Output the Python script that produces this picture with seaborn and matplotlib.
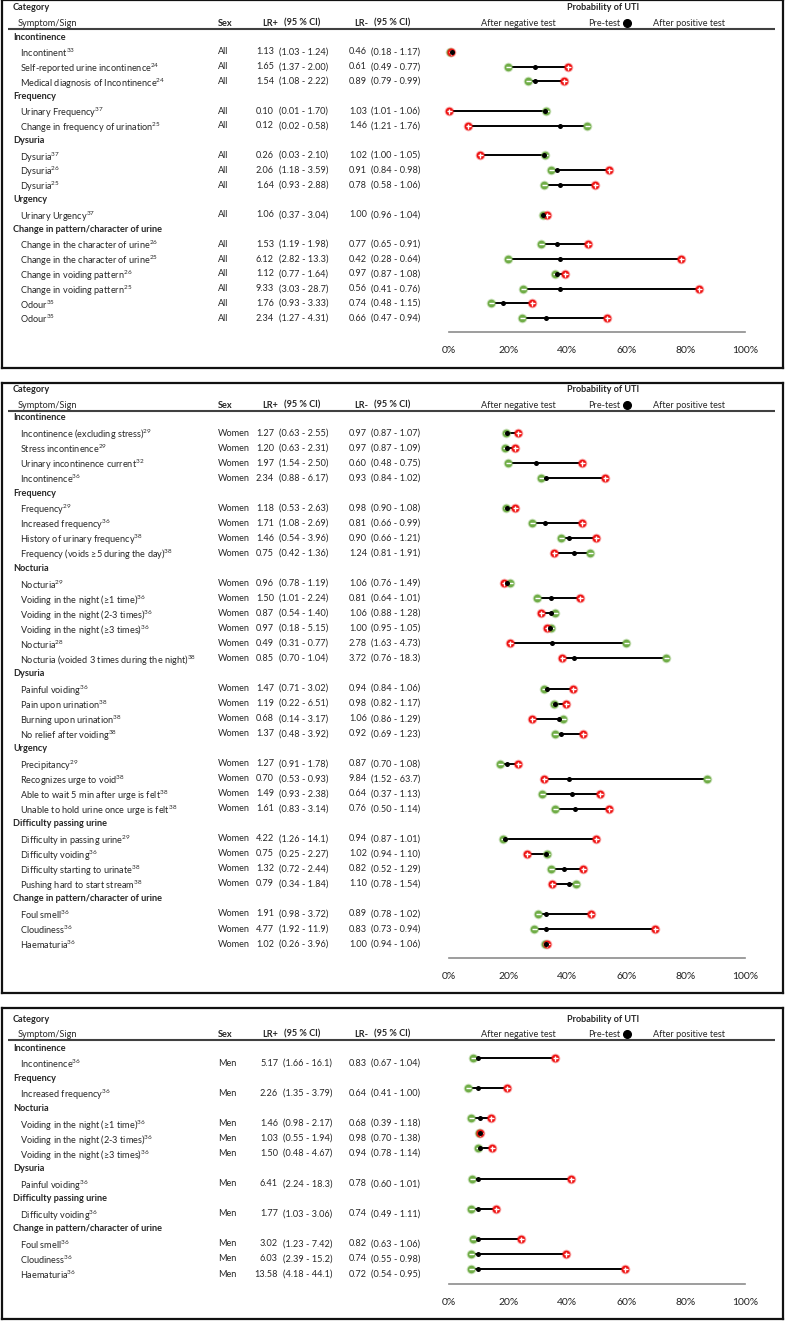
import matplotlib
matplotlib.use("Agg")
import matplotlib.pyplot as plt
import seaborn as sns

# ---------------- data ----------------
# panel 1: all patients (rows with empty sex are category headings)
labels1 = ["Incontinence", "Incontinent$^{33}$", "Self-reported urine incontinence$^{24}$",
           "Medical diagnosis of Incontinence$^{24}$", "Frequency", "Urinary Frequency$^{37}$",
           "Change in frequency of urination$^{25}$", "Dysuria", "Dysuria$^{37}$", "Dysuria$^{26}$",
           "Dysuria$^{25}$", "Urgency", "Urinary Urgency$^{37}$", "Change in pattern/character of urine",
           "Change in the character of urine$^{26}$", "Change in the character of urine$^{25}$",
           "Change in voiding pattern$^{26}$", "Change in voiding pattern$^{25}$",
           "Odour$^{35}$", "Odour$^{35}$"]
sex1 = ["", "All", "All", "All", "", "All", "All", "", "All", "All", "All", "", "All", "",
        "All", "All", "All", "All", "All", "All"]
lrp1 = ["", "1.13", "1.65", "1.54", "", "0.10", "0.12", "", "0.26", "2.06", "1.64", "", "1.06", "",
        "1.53", "6.12", "1.12", "9.33", "1.76", "2.34"]
cip1 = ["", "(1.03 - 1.24)", "(1.37 - 2.00)", "(1.08 - 2.22)", "", "(0.01 - 1.70)", "(0.02 - 0.58)", "",
        "(0.03 - 2.10)", "(1.18 - 3.59)", "(0.93 - 2.88)", "", "(0.37 - 3.04)", "",
        "(1.19 - 1.98)", "(2.82 - 13.3)", "(0.77 - 1.64)", "(3.03 - 28.7)", "(0.93 - 3.33)", "(1.27 - 4.31)"]
lrn1 = ["", "0.46", "0.61", "0.89", "", "1.03", "1.46", "", "1.02", "0.91", "0.78", "", "1.00", "",
        "0.77", "0.42", "0.97", "0.56", "0.74", "0.66"]
cin1 = ["", "(0.18 - 1.17)", "(0.49 - 0.77)", "(0.79 - 0.99)", "", "(1.01 - 1.06)", "(1.21 - 1.76)", "",
        "(1.00 - 1.05)", "(0.84 - 0.98)", "(0.58 - 1.06)", "", "(0.96 - 1.04)", "",
        "(0.65 - 0.91)", "(0.28 - 0.64)", "(0.87 - 1.08)", "(0.41 - 0.76)", "(0.48 - 1.15)", "(0.47 - 0.94)"]
neg1 = [None, 0.2, 20.0, 26.6, None, 32.8, 46.7, None, 32.4, 34.5, 32.0, None, 31.8, None,
        31.0, 20.0, 35.7, 25.1, 14.2, 24.5]
pre1 = [None, 1.0, 29.2, 29.2, None, 32.3, 37.5, None, 32.1, 36.5, 37.5, None, 31.9, None,
        36.6, 37.4, 36.6, 37.4, 18.4, 32.8]
pos1 = [None, 0.7, 40.3, 38.7, None, 0.0, 6.3, None, 10.6, 54.2, 49.2, None, 33.1, None,
        47.1, 78.4, 39.2, 84.6, 28.1, 53.3]

# panel 2: women
labels2 = ["Incontinence", "Incontinence (excluding stress)$^{29}$", "Stress incontinence$^{29}$",
           "Urinary incontinence current$^{32}$", "Incontinence$^{36}$", "Frequency", "Frequency$^{29}$",
           "Increased frequency$^{36}$", "History of urinary frequency$^{38}$",
           "Frequency (voids ≥5 during the day)$^{38}$", "Nocturia", "Nocturia$^{29}$",
           "Voiding in the night (≥1 time)$^{36}$", "Voiding in the night (2-3 times)$^{36}$",
           "Voiding in the night (≥3 times)$^{36}$", "Nocturia$^{28}$",
           "Nocturia (voided 3 times during the night)$^{38}$", "Dysuria", "Painful voiding$^{36}$",
           "Pain upon urination$^{38}$", "Burning upon urination$^{38}$", "No relief after voiding$^{38}$",
           "Urgency", "Precipitancy$^{29}$", "Recognizes urge to void$^{38}$",
           "Able to wait 5 min after urge is felt$^{38}$", "Unable to hold urine once urge is felt$^{38}$",
           "Difficulty passing urine", "Difficulty in passing urine$^{29}$", "Difficulty voiding$^{36}$",
           "Difficulty starting to urinate$^{38}$", "Pushing hard to start stream$^{38}$",
           "Change in pattern/character of urine", "Foul smell$^{36}$", "Cloudiness$^{36}$",
           "Haematuria$^{36}$"]
sex2 = ["", "Women", "Women", "Women", "Women", "", "Women", "Women", "Women", "Women", "",
        "Women", "Women", "Women", "Women", "Women", "Women", "", "Women", "Women", "Women", "Women",
        "", "Women", "Women", "Women", "Women", "", "Women", "Women", "Women", "Women", "",
        "Women", "Women", "Women"]
lrp2 = ["", "1.27", "1.20", "1.97", "2.34", "", "1.18", "1.71", "1.46", "0.75", "",
        "0.96", "1.50", "0.87", "0.97", "0.49", "0.85", "", "1.47", "1.19", "0.68", "1.37",
        "", "1.27", "0.70", "1.49", "1.61", "", "4.22", "0.75", "1.32", "0.79", "",
        "1.91", "4.77", "1.02"]
cip2 = ["", "(0.63 - 2.55)", "(0.63 - 2.31)", "(1.54 - 2.50)", "(0.88 - 6.17)", "",
        "(0.53 - 2.63)", "(1.08 - 2.69)", "(0.54 - 3.96)", "(0.42 - 1.36)", "",
        "(0.78 - 1.19)", "(1.01 - 2.24)", "(0.54 - 1.40)", "(0.18 - 5.15)", "(0.31 - 0.77)", "(0.70 - 1.04)", "",
        "(0.71 - 3.02)", "(0.22 - 6.51)", "(0.14 - 3.17)", "(0.48 - 3.92)", "",
        "(0.91 - 1.78)", "(0.53 - 0.93)", "(0.93 - 2.38)", "(0.83 - 3.14)", "",
        "(1.26 - 14.1)", "(0.25 - 2.27)", "(0.72 - 2.44)", "(0.34 - 1.84)", "",
        "(0.98 - 3.72)", "(1.92 - 11.9)", "(0.26 - 3.96)"]
lrn2 = ["", "0.97", "0.97", "0.60", "0.93", "", "0.98", "0.81", "0.90", "1.24", "",
        "1.06", "0.81", "1.06", "1.00", "2.78", "3.72", "", "0.94", "0.98", "1.06", "0.92",
        "", "0.87", "9.84", "0.64", "0.76", "", "0.94", "1.02", "0.82", "1.10", "",
        "0.89", "0.83", "1.00"]
cin2 = ["", "(0.87 - 1.07)", "(0.87 - 1.09)", "(0.48 - 0.75)", "(0.84 - 1.02)", "",
        "(0.90 - 1.08)", "(0.66 - 0.99)", "(0.66 - 1.21)", "(0.81 - 1.91)", "",
        "(0.76 - 1.49)", "(0.64 - 1.01)", "(0.88 - 1.28)", "(0.95 - 1.05)", "(1.63 - 4.73)", "(0.76 - 18.3)", "",
        "(0.84 - 1.06)", "(0.82 - 1.17)", "(0.86 - 1.29)", "(0.69 - 1.23)", "",
        "(0.70 - 1.08)", "(1.52 - 63.7)", "(0.37 - 1.13)", "(0.50 - 1.14)", "",
        "(0.87 - 1.01)", "(0.94 - 1.10)", "(0.52 - 1.29)", "(0.78 - 1.54)", "",
        "(0.78 - 1.02)", "(0.73 - 0.94)", "(0.94 - 1.06)"]
neg2 = [None, 19.3, 19.0, 20.0, 31.0, None, 19.3, 28.1, 38.0, 47.7, None,
        20.6, 29.8, 35.9, 34.3, 59.9, 73.2, None, 32.0, 35.6, 38.4, 35.8,
        None, 17.2, 87.2, 31.5, 35.8, None, 18.1, 33.1, 34.3, 42.8, None,
        30.2, 28.7, 32.6]
pre2 = [None, 19.7, 19.6, 29.4, 32.8, None, 19.7, 32.5, 40.5, 42.2, None,
        19.7, 34.6, 34.6, 34.2, 34.8, 42.2, None, 33.2, 35.8, 37.3, 37.7,
        None, 19.7, 40.7, 41.6, 42.6, None, 19.0, 32.7, 39.0, 40.5, None,
        32.8, 32.8, 32.8]
pos2 = [None, 23.2, 22.3, 44.9, 52.8, None, 22.3, 44.9, 49.8, 35.4, None,
        18.5, 44.2, 31.2, 33.0, 20.6, 38.2, None, 42.0, 39.6, 28.1, 45.2,
        None, 23.2, 32.2, 51.0, 54.2, None, 49.8, 26.2, 45.4, 34.8, None,
        48.0, 69.6, 33.1]

# panel 3: men
labels3 = ["Incontinence", "Incontinence$^{36}$", "Frequency", "Increased frequency$^{36}$", "Nocturia",
           "Voiding in the night (≥1 time)$^{36}$", "Voiding in the night (2-3 times)$^{36}$",
           "Voiding in the night (≥3 times)$^{36}$", "Dysuria", "Painful voiding$^{36}$",
           "Difficulty passing urine", "Difficulty voiding$^{36}$", "Change in pattern/character of urine",
           "Foul smell$^{36}$", "Cloudiness$^{36}$", "Haematuria$^{36}$"]
sex3 = ["", "Men", "", "Men", "", "Men", "Men", "Men", "", "Men", "", "Men", "", "Men", "Men", "Men"]
lrp3 = ["", "5.17", "", "2.26", "", "1.46", "1.03", "1.50", "", "6.41", "", "1.77", "",
        "3.02", "6.03", "13.58"]
cip3 = ["", "(1.66 - 16.1)", "", "(1.35 - 3.79)", "", "(0.98 - 2.17)", "(0.55 - 1.94)", "(0.48 - 4.67)", "",
        "(2.24 - 18.3)", "", "(1.03 - 3.06)", "", "(1.23 - 7.42)", "(2.39 - 15.2)", "(4.18 - 44.1)"]
lrn3 = ["", "0.83", "", "0.64", "", "0.68", "0.98", "0.94", "", "0.78", "", "0.74", "",
        "0.82", "0.74", "0.72"]
cin3 = ["", "(0.67 - 1.04)", "", "(0.41 - 1.00)", "", "(0.39 - 1.18)", "(0.70 - 1.38)", "(0.78 - 1.14)", "",
        "(0.60 - 1.01)", "", "(0.49 - 1.11)", "", "(0.63 - 1.06)", "(0.55 - 0.98)", "(0.54 - 0.95)"]
neg3 = [None, 8.2, None, 6.5, None, 7.3, 10.3, 9.8, None, 7.9, None, 7.3, None, 8.0, 7.3, 7.3]
pre3 = [None, 9.8, None, 9.8, None, 10.4, 10.6, 10.5, None, 9.8, None, 9.8, None, 9.8, 9.8, 9.8]
pos3 = [None, 35.8, None, 19.7, None, 14.1, 10.6, 14.5, None, 41.2, None, 16.0, None, 24.4, 39.5, 59.6]

xtick_values = [0, 20, 40, 60, 80, 100]
xtick_labels = ["0%", "20%", "40%", "60%", "80%", "100%"]

# ---------------- style ----------------
sns.set_theme(style="white")
plt.rcParams["font.family"] = ["Liberation Sans Narrow", "Lato", "DejaVu Sans"]
plt.rcParams["mathtext.default"] = "regular"

W, H = 786, 1321
GREEN = "#70ad47"
RED = "#ee1111"
FS = 6.6

fig = plt.figure(figsize=(W / 100, H / 100), dpi=100)


def draw_panel(top, bottom, row0, dy, line_y, axis_y, labels, sex, lrp, cip, lrn, cin,
               neg, pre, pos, lr_shift=0, dot_shift=0):
    # frame axes: pixel coordinates, used for the table text
    left, right = 2, 783
    box = fig.add_axes([left / W, 1 - bottom / H, (right - left) / W, (bottom - top) / H])
    box.set_xlim(left, right)
    box.set_ylim(bottom, top)
    box.set_xticks([])
    box.set_yticks([])
    for sp in box.spines.values():
        sp.set_linewidth(1.6)
        sp.set_color("#111111")

    cat_y = line_y - 21
    sym_y = line_y - 6
    box.text(13, cat_y, "Category", fontsize=FS, weight="bold", va="center")
    box.text(18, sym_y, "Symptom/Sign", fontsize=FS, va="center")
    box.text(218, sym_y, "Sex", fontsize=FS, weight="bold", va="center")
    box.text(262, sym_y, "LR+", fontsize=FS, weight="bold", va="center")
    box.text(284, sym_y, "(95 % CI)", fontsize=FS, weight="bold", va="center")
    box.text(354, sym_y, "LR-", fontsize=FS, weight="bold", va="center")
    box.text(374, sym_y, "(95 % CI)", fontsize=FS, weight="bold", va="center")
    box.text(603, cat_y, "Probability of UTI", fontsize=FS, weight="bold", ha="center", va="center")
    box.text(518, sym_y, "After negative test", fontsize=FS, ha="center", va="center")
    box.text(604, sym_y, "Pre-test", fontsize=FS, ha="center", va="center")
    box.plot([627], [sym_y], "o", color="black", markersize=5.5)
    box.text(689, sym_y, "After positive test", fontsize=FS, ha="center", va="center")
    box.plot([8, 775], [line_y, line_y], color="#404040", lw=1.5, solid_capstyle="butt")

    ys = [row0 + i * dy for i in range(len(labels))]
    for y, lab, s, a, b, c, d in zip(ys, labels, sex, lrp, cip, lrn, cin):
        if s == "":
            box.text(13, y, lab, fontsize=FS, weight="bold", va="center")
            continue
        box.text(20, y, lab, fontsize=FS, va="center_baseline")
        box.text(218, y, s, fontsize=FS, va="center")
        box.text(274 + lr_shift, y, a, fontsize=FS, ha="right", va="center")
        box.text(279 + lr_shift, y, b, fontsize=FS, va="center")
        box.text(367, y, c, fontsize=FS, ha="right", va="center")
        box.text(371, y, d, fontsize=FS, va="center")

    # plot axes for the probabilities
    ptop = line_y + 3
    pa = fig.add_axes([449 / W, 1 - axis_y / H, 296 / W, (axis_y - ptop) / H])
    pa.set_xlim(0, 100)
    pa.set_ylim(axis_y, ptop)
    pa.patch.set_alpha(0)
    for k in ["top", "left", "right"]:
        pa.spines[k].set_visible(False)
    pa.spines["bottom"].set_color("#8c8c8c")
    pa.spines["bottom"].set_linewidth(1.2)
    pa.set_yticks([])
    pa.set_xticks(xtick_values)
    pa.set_xticklabels(xtick_labels)
    pa.tick_params(axis="x", length=0, pad=10, labelsize=7.5, labelcolor="#222222")
    pa.grid(False)

    idx = [i for i, s in enumerate(sex) if s != ""]
    yy = [ys[i] + dot_shift for i in idx]
    nv = [neg[i] for i in idx]
    pv = [pre[i] for i in idx]
    qv = [pos[i] for i in idx]
    lo = [min(a, b, c) for a, b, c in zip(nv, pv, qv)]
    hi = [max(a, b, c) for a, b, c in zip(nv, pv, qv)]
    pa.hlines(yy, lo, hi, color="black", lw=1.4, zorder=2, clip_on=False)

    # green = after negative, red = after positive (soft halo + solid dot)
    sns.scatterplot(x=nv, y=yy, color=GREEN, s=48, alpha=0.35, linewidth=0, ax=pa,
                    zorder=3, clip_on=False, legend=False)
    sns.scatterplot(x=nv, y=yy, color=GREEN, s=30, linewidth=0, ax=pa,
                    zorder=3, clip_on=False, legend=False)
    pa.plot(nv, yy, ls="none", marker="_", color="white", markersize=3.6, mew=1.0,
            zorder=3.5, clip_on=False)
    sns.scatterplot(x=qv, y=yy, color=RED, s=48, alpha=0.35, linewidth=0, ax=pa,
                    zorder=4, clip_on=False, legend=False)
    sns.scatterplot(x=qv, y=yy, color=RED, s=30, linewidth=0, ax=pa,
                    zorder=4, clip_on=False, legend=False)
    pa.plot(qv, yy, ls="none", marker="+", color="white", markersize=3.6, mew=1.0,
            zorder=4.5, clip_on=False)
    sns.scatterplot(x=pv, y=yy, color="black", s=13, linewidth=0, ax=pa,
                    zorder=5, clip_on=False, legend=False)
    return box, pa


draw_panel(0, 368, 37, 14.8, 29, 332, labels1, sex1, lrp1, cip1, lrn1, cin1, neg1, pre1, pos1)
draw_panel(383, 993, 418, 15.03, 411, 958, labels2, sex2, lrp2, cip2, lrn2, cin2, neg2, pre2, pos2)
draw_panel(1008, 1319, 1048, 15.07, 1040, 1284, labels3, sex3, lrp3, cip3, lrn3, cin3, neg3, pre3, pos3,
           lr_shift=4, dot_shift=-5)

fig.savefig("out.png", dpi=100)
